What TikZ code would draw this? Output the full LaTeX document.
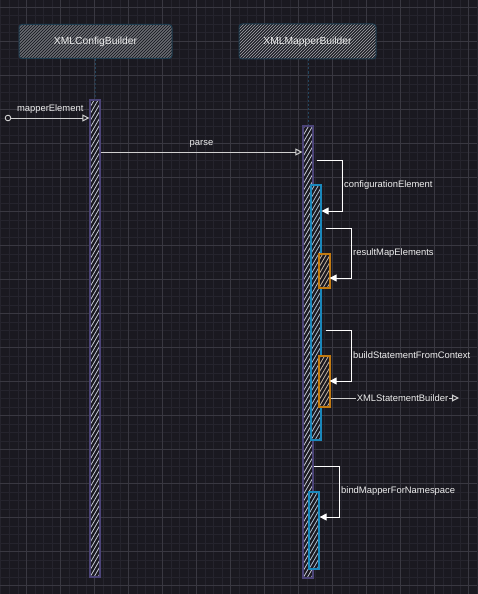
\documentclass[tikz,border=0pt]{standalone}
\usepackage{fontspec}
\setmainfont{Liberation Sans}
\usetikzlibrary{arrows.meta,calc}
\definecolor{bg}{HTML}{1A1920}
\definecolor{gridminor}{HTML}{25242D}
\definecolor{gridmajor}{HTML}{393841}
\definecolor{actorborder}{HTML}{1F3D50}
\definecolor{actorfill}{HTML}{1E2027}
\definecolor{hatchgray}{HTML}{A8A8AE}
\definecolor{barhatchc}{HTML}{C4C8D4}
\definecolor{barpurple}{HTML}{4C4478}
\definecolor{barblue}{HTML}{1A88BC}
\definecolor{barorange}{HTML}{C27A10}
\definecolor{lifeline}{HTML}{23465E}
\definecolor{txt}{HTML}{EEEEEE}
\definecolor{msggray}{HTML}{D0D0D0}
\tikzset{
  boxhatch/.style={path picture={\foreach \k in {-60,-57,...,160}
      \draw[hatchgray, line width=0.6pt] ([xshift=\k pt]path picture bounding box.south west) -- ++(60pt,60pt);}},
  barhatch/.style={path picture={\foreach \k in {-300,-296,...,20}
      \draw[#1, line width=0.8pt] ([xshift=\k pt]path picture bounding box.south west) -- ++(330pt,570pt);}},
  actor/.style={draw=actorborder, line width=1pt, fill=actorfill, rounded corners=3pt,
      boxhatch, text=txt, inner sep=0pt, font=\fontsize{10.3}{12}\selectfont},
  bar/.style={draw=#1, line width=1.2pt, fill=bg, minimum width=10pt, inner sep=0pt},
  mainbar/.style={bar=barpurple, barhatch=barhatchc},
  bluebar/.style={bar=barblue, barhatch=barhatchc!85!barblue},
  orangebar/.style={bar=barorange, barhatch=barhatchc!75!barorange, minimum width=11pt},
  life/.style={lifeline, line width=1pt, dash pattern=on 2pt off 2pt},
  msg/.style={msggray, line width=1pt, -{Triangle[open, length=7pt, width=7pt]}},
  selfcall/.style={white, line width=1pt, -{Triangle[length=7pt, width=7pt]}},
  lbl/.style={text=txt, inner sep=2pt},
}
\begin{document}
\begin{tikzpicture}[x=1pt, y=-1pt, font=\fontsize{9.4}{11}\selectfont]
\fill[bg] (0,0) rectangle (477,594);
\useasboundingbox (0,0) rectangle (477,594);
% grid
\foreach \i in {0,...,56} {
  \draw[gridminor, line width=0.6pt] ({0.8+8.5*\i},0) -- ({0.8+8.5*\i},594);
}
\foreach \i in {0,...,70} {
  \draw[gridminor, line width=0.6pt] (0,{-1.2+8.5*\i}) -- (477,{-1.2+8.5*\i});
}
\foreach \i in {0,...,13} {
  \draw[gridmajor, line width=0.8pt] ({26.3+34*\i},0) -- ({26.3+34*\i},594);
}
\foreach \i in {0,...,17} {
  \draw[gridmajor, line width=0.8pt] (0,{7.3+34*\i}) -- (477,{7.3+34*\i});
}
% actors
\node[actor, minimum width=153pt, minimum height=34pt] (cfg) at (95.5,41.5) {XMLConfigBuilder};
\node[actor, minimum width=137pt, minimum height=35pt] (map) at (307.5,41.5) {XMLMapperBuilder};
% activation bars
\node[mainbar, minimum height=477pt] (b1) at (95,338.5) {};
\node[mainbar, minimum height=452pt] (b2) at (308,352) {};
\node[bluebar, minimum height=255pt] (bl1) at (316,312.5) {};
\node[orangebar, minimum height=34pt] (or1) at (324.5,271) {};
\node[orangebar, minimum height=51pt] (or2) at (324.5,381.5) {};
\node[bluebar, minimum height=77pt] (bl2) at (314,530.5) {};
% lifelines
\draw[life] (cfg.south) -- (b1.north);
\draw[life] (map.south -| b2.north) -- (b2.north);
% mapperElement
\coordinate (me) at (8,118);
\draw[msggray, line width=0.9pt] (me) circle (2.8pt);
\draw[msg] ([xshift=3pt]me) -- (me -| b1.west) node[midway, above=0.5pt, text=txt] {mapperElement};
% parse
\coordinate (ps) at (100,152);
\draw[msg] (b1.east |- ps) -- (b2.west |- ps) node[midway, above=1pt, text=txt] {parse};
% configurationElement
\coordinate (c1t) at (342,160);
\coordinate (c1b) at (342,211);
\draw[selfcall] ([xshift=3pt]b2.east |- c1t) -| (c1b) -- (bl1.east |- c1b);
\node[lbl, right] (l1) at ($(c1t)!0.5!(c1b)$) {configurationElement};
% resultMapElements
\coordinate (c2t) at (351,228);
\coordinate (c2b) at (351,278);
\draw[selfcall] ([xshift=4pt]bl1.east |- c2t) -| (c2b) -- ([xshift=-1pt]or1.east |- c2b);
\node[lbl, right] (l2) at ($(c2t)!0.5!(c2b)$) {resultMapElements};
% buildStatementFromContext
\coordinate (c3t) at (351,330);
\coordinate (c3b) at (351,381);
\draw[selfcall] ([xshift=4pt]bl1.east |- c3t) -| (c3b) -- ([xshift=-1pt]or2.east |- c3b);
\node[lbl, right] (l3) at ($(c3t)!0.5!(c3b)$) {buildStatementFromContext};
% XMLStatementBuilder
\coordinate (xs) at (459,398);
\draw[msg] (or2.east |- xs) -- (xs) node[pos=0.56, fill=bg, inner sep=1pt, text=txt] {XMLStatementBuilder};
% bindMapperForNamespace
\coordinate (c4t) at (339,466);
\coordinate (c4b) at (339,517);
\draw[selfcall] (b2.east |- c4t) -| (c4b) -- (bl2.east |- c4b);
\node[lbl, right] (l4) at ($(c4t)!0.5!(c4b)$) {bindMapperForNamespace};
\end{tikzpicture}
\end{document}
